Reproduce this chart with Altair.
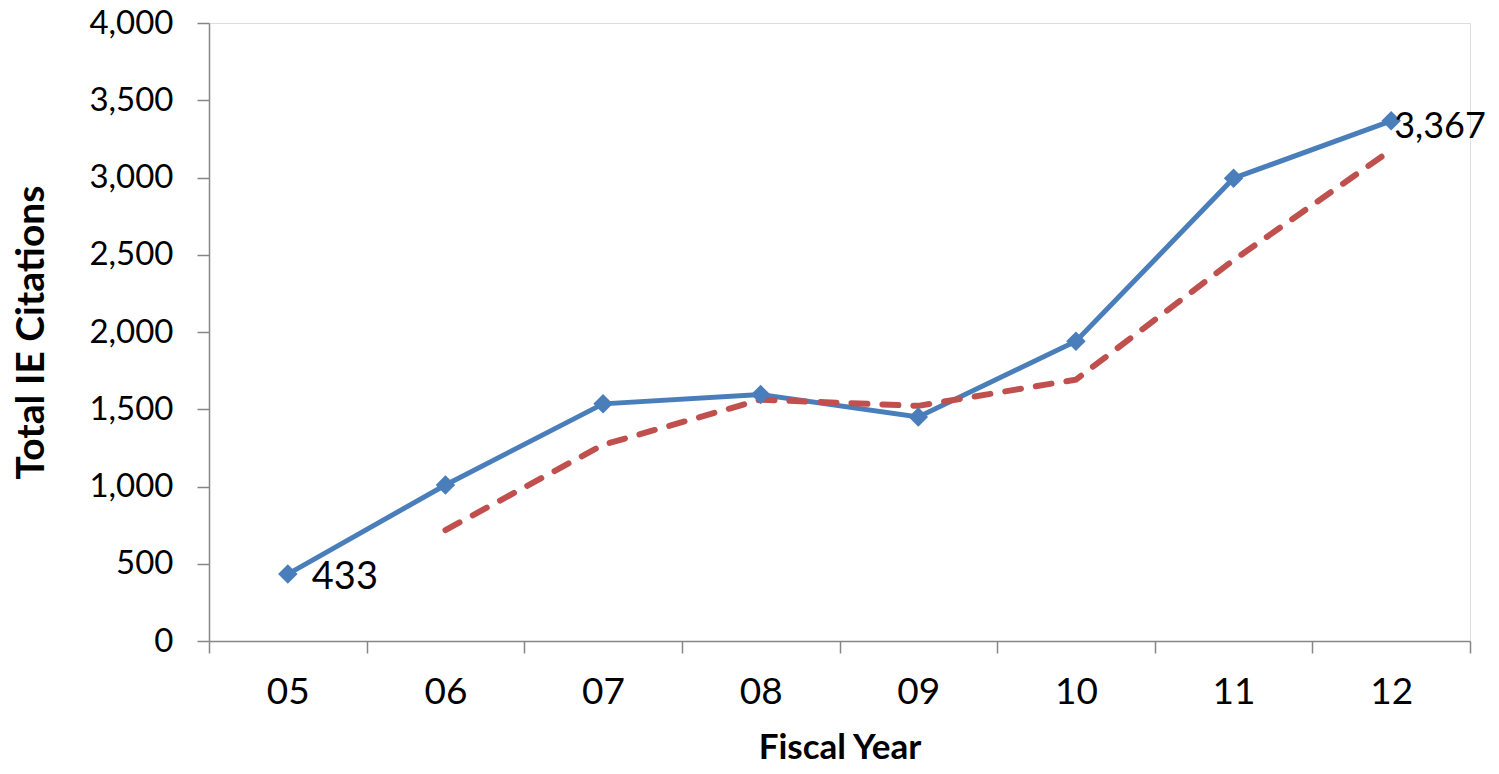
import altair as alt
import pandas as pd

years = ["05", "06", "07", "08", "09", "10", "11", "12"]
citations = [433, 1010, 1535, 1595, 1450, 1940, 2995, 3367]
trend_years = ["06", "07", "08", "09", "10", "11", "12"]
trend_values = [718, 1270, 1562, 1522, 1692, 2465, 3178]
label_years = ["05", "12"]
label_values = [433, 3367]
label_text = ["433", "3,367"]

FONT = "Lato"
BLUE = "#4A7EBB"
RED = "#C0504D"
AXIS_GRAY = "#868686"

df = pd.DataFrame({"year": years, "value": citations})
tdf = pd.DataFrame({"year": trend_years, "value": trend_values})
ldf = pd.DataFrame({"year": label_years, "value": label_values, "text": label_text})

xscale = alt.Scale(type="band", domain=years, paddingInner=0, paddingOuter=0)
yscale = alt.Scale(domain=[0, 4000])

x_enc = alt.X(
    "year:O",
    scale=xscale,
    axis=alt.Axis(
        title="Fiscal Year",
        tickBand="extent",
        labelAngle=0,
        labelFontSize=37,
        labelFont=FONT,
        labelColor="black",
        labelPadding=21,
        tickSize=12,
        tickColor=AXIS_GRAY,
        tickWidth=1.5,
        domainColor=AXIS_GRAY,
        domainWidth=1.5,
        titleFont=FONT,
        titleFontSize=35,
        titleFontWeight="bold",
        titleColor="black",
        titlePadding=20,
    ),
)
y_enc = alt.Y(
    "value:Q",
    scale=yscale,
    axis=alt.Axis(
        title="Total IE Citations",
        values=list(range(0, 4001, 500)),
        format=",.0f",
        grid=False,
        labelFontSize=33,
        labelFont=FONT,
        labelColor="black",
        labelPadding=24,
        tickSize=12,
        tickColor=AXIS_GRAY,
        tickWidth=1.5,
        domainColor=AXIS_GRAY,
        domainWidth=1.5,
        titleFont=FONT,
        titleFontSize=39,
        titleFontWeight="bold",
        titleColor="black",
        titlePadding=37,
    ),
)

line = alt.Chart(df).mark_line(color=BLUE, strokeWidth=5).encode(x=x_enc, y=y_enc)
pts = alt.Chart(df).mark_point(
    shape="diamond", filled=True, color=BLUE, size=380, opacity=1
).encode(x=alt.X("year:O", scale=xscale), y=alt.Y("value:Q", scale=yscale))
trend = alt.Chart(tdf).mark_line(
    color=RED, strokeWidth=6, strokeDash=[16, 15], strokeCap="round"
).encode(x=alt.X("year:O", scale=xscale), y=alt.Y("value:Q", scale=yscale))
labels = alt.Chart(ldf).mark_text(
    align="left", baseline="middle", font=FONT, fontSize=38, color="black"
).encode(x=alt.X("year:O", scale=xscale), y=alt.Y("value:Q", scale=yscale), text="text:N")
labels1 = labels.transform_filter(alt.datum.year == "05").mark_text(
    align="left", baseline="middle", font=FONT, fontSize=38, color="black", dx=24, dy=4
)
labels2 = labels.transform_filter(alt.datum.year == "12").mark_text(
    align="left", baseline="middle", font=FONT, fontSize=36, color="black", dx=3, dy=6
)

chart = (
    alt.layer(line, trend, pts, labels1, labels2)
    .properties(
        width=1261,
        height=618,
        autosize=alt.AutoSizeParams(type="none"),
        padding={"left": 201, "top": 15, "right": 20, "bottom": 124},
    )
    .configure_view(stroke=None)
    .configure(background="white")
)

chart.save("out.html", embed_options={"renderer": "svg", "actions": False})
